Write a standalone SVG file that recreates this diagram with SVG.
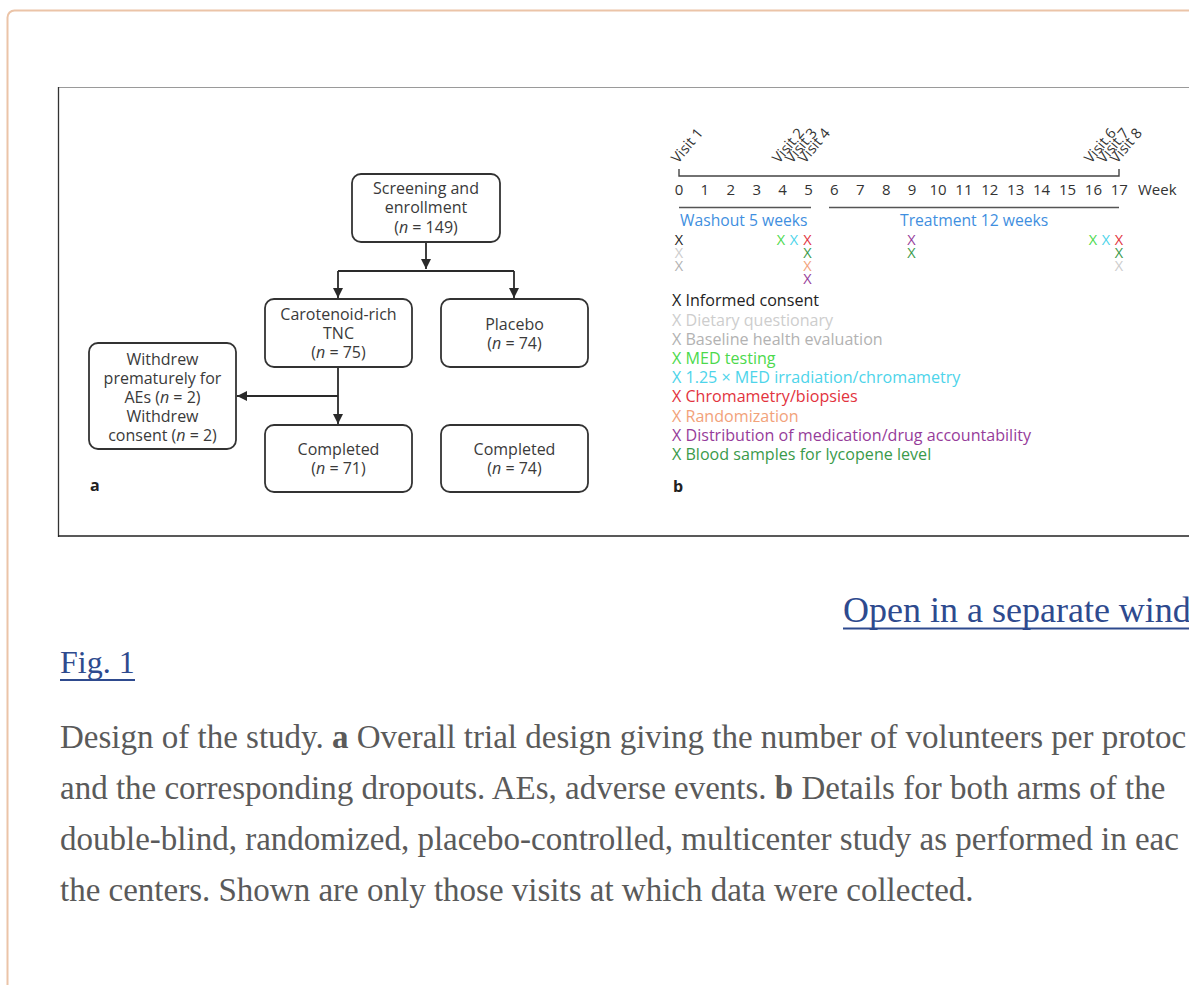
<svg xmlns="http://www.w3.org/2000/svg" width="1189" height="985" viewBox="0 0 1189 985">
<defs>
<marker id="ah" markerUnits="userSpaceOnUse" markerWidth="12" markerHeight="12" refX="10" refY="5" orient="auto">
<path d="M0,0 L10,5 L0,10 Z" fill="#2a2a2a"/>
</marker>
</defs>
<style>
.box{fill:#fff;stroke:#333;stroke-width:1.8}
.ft{font-family:"Open Sans","Noto Sans",sans-serif;font-size:16px;fill:#3a3a3a;text-anchor:middle}
.con{fill:none;stroke:#2a2a2a;stroke-width:1.8}
.wk{font-family:"Open Sans","Noto Sans",sans-serif;font-size:15px;fill:#333;text-anchor:middle}
.vis{font-family:"Open Sans","Noto Sans",sans-serif;font-size:14.5px;fill:#333}
.xm{font-family:"Open Sans","Noto Sans",sans-serif;font-size:14.5px;text-anchor:middle}
.lg{font-family:"Open Sans","Noto Sans",sans-serif;font-size:16.1px}
.blue{font-family:"Open Sans","Noto Sans",sans-serif;font-size:15.7px;fill:#3f8fe0}
.pl{font-family:"Open Sans","Noto Sans",sans-serif;font-size:16px;font-weight:bold;fill:#222}
.cap{font-family:"Liberation Serif","Times New Roman",serif;font-size:33px;fill:#5a5a5a}
.lnk{font-family:"Liberation Serif","Times New Roman",serif;fill:#2e4a8e}
.k{fill:#222}.dq{fill:#cdcdcd}.bh{fill:#b2b2b2}.med{fill:#4cd94c}.cy{fill:#4dd4ea}.rd{fill:#e2333d}.or{fill:#f2a27a}.pu{fill:#963c9a}.bl{fill:#3a9a4a}
</style>
<rect width="1189" height="985" fill="#fff"/>
<rect x="7.5" y="10.5" width="1240" height="1000" rx="7" fill="none" stroke="#ebc4a8" stroke-width="2"/>
<g id="frame">
<line x1="58" y1="87.5" x2="1189" y2="87.5" stroke="#9a9a9a" stroke-width="1.2"/>
<line x1="58.5" y1="87" x2="58.5" y2="537" stroke="#333" stroke-width="1.3"/>
<line x1="58" y1="536" x2="1189" y2="536" stroke="#222" stroke-width="1.6"/>
</g>

<g id="connectors">
<path class="con" d="M426,242 V269" marker-end="url(#ah)"/>
<path class="con" d="M338,271 H514"/>
<path class="con" d="M338,271 V298" marker-end="url(#ah)"/>
<path class="con" d="M514,271 V298" marker-end="url(#ah)"/>
<path class="con" d="M338,367 V424" marker-end="url(#ah)"/>
<path class="con" d="M338,396 H237" marker-end="url(#ah)"/>
</g>

<g id="screening">
<rect class="box" x="352" y="174" width="148" height="68" rx="9"/>
<text class="ft" x="426" y="193.5">Screening and</text>
<text class="ft" x="426" y="213">enrollment</text>
<text class="ft" x="426" y="233">(<tspan font-style="italic">n</tspan> = 149)</text>
</g>
<g id="tnc">
<rect class="box" x="265" y="299" width="147" height="68" rx="9"/>
<text class="ft" x="338.5" y="319.5">Carotenoid-rich</text>
<text class="ft" x="338.5" y="338.5">TNC</text>
<text class="ft" x="338.5" y="358">(<tspan font-style="italic">n</tspan> = 75)</text>
</g>
<g id="placebo">
<rect class="box" x="441" y="299" width="147" height="68" rx="9"/>
<text class="ft" x="514.5" y="329.5">Placebo</text>
<text class="ft" x="514.5" y="348.5">(<tspan font-style="italic">n</tspan> = 74)</text>
</g>
<g id="withdrew">
<rect class="box" x="89" y="343" width="147" height="106" rx="9"/>
<text class="ft" x="162.5" y="364.5">Withdrew</text>
<text class="ft" x="162.5" y="383.5">prematurely for</text>
<text class="ft" x="162.5" y="403">AEs (<tspan font-style="italic">n</tspan> = 2)</text>
<text class="ft" x="162.5" y="422">Withdrew</text>
<text class="ft" x="162.5" y="441">consent (<tspan font-style="italic">n</tspan> = 2)</text>
</g>
<g id="completed-tnc">
<rect class="box" x="265" y="425" width="147" height="67" rx="9"/>
<text class="ft" x="338.5" y="454.5">Completed</text>
<text class="ft" x="338.5" y="473.5">(<tspan font-style="italic">n</tspan> = 71)</text>
</g>
<g id="completed-placebo">
<rect class="box" x="441" y="425" width="147" height="67" rx="9"/>
<text class="ft" x="514.5" y="454.5">Completed</text>
<text class="ft" x="514.5" y="473.5">(<tspan font-style="italic">n</tspan> = 74)</text>
</g>
<text class="pl" x="90" y="491">a</text>

<g id="timeline">
<path d="M679,169 V176 H1119 V169" fill="none" stroke="#444" stroke-width="1.4"/>
<g class="vis">
<text transform="translate(678,164) rotate(-50)">Visit 1</text>
<text transform="translate(779,164) rotate(-50)">Visit 2</text>
<text transform="translate(792,164) rotate(-50)">Visit 3</text>
<text transform="translate(805,164) rotate(-50)">Visit 4</text>
<text transform="translate(1091,164) rotate(-50)">Visit 6</text>
<text transform="translate(1104,164) rotate(-50)">Visit 7</text>
<text transform="translate(1117,164) rotate(-50)">Visit 8</text>
</g>
<g class="wk">
<text x="679" y="195">0</text><text x="704.9" y="195">1</text><text x="730.8" y="195">2</text><text x="756.7" y="195">3</text><text x="782.6" y="195">4</text><text x="808.5" y="195">5</text><text x="834.4" y="195">6</text><text x="860.3" y="195">7</text><text x="886.2" y="195">8</text><text x="912.1" y="195">9</text><text x="938" y="195">10</text><text x="963.9" y="195">11</text><text x="989.8" y="195">12</text><text x="1015.7" y="195">13</text><text x="1041.6" y="195">14</text><text x="1067.5" y="195">15</text><text x="1093.4" y="195">16</text><text x="1119.3" y="195">17</text>
<text x="1138" y="195" text-anchor="start">Week</text>
</g>
<line x1="679" y1="207.5" x2="811" y2="207.5" stroke="#555" stroke-width="1.3"/>
<line x1="829" y1="207.5" x2="1119" y2="207.5" stroke="#555" stroke-width="1.3"/>
<text class="blue" x="680" y="226">Washout 5 weeks</text>
<text class="blue" x="900" y="226">Treatment 12 weeks</text>
</g>

<g id="marks" class="xm">
<text class="k" x="679" y="245">X</text>
<text class="dq" x="679" y="258">X</text>
<text class="bh" x="679" y="271">X</text>
<text class="med" x="781" y="245">X</text>
<text class="cy" x="794" y="245">X</text>
<text class="rd" x="807.5" y="245">X</text>
<text class="bl" x="807.5" y="258">X</text>
<text class="or" x="807.5" y="271">X</text>
<text class="pu" x="807.5" y="284">X</text>
<text class="pu" x="911.5" y="245">X</text>
<text class="bl" x="911.5" y="258">X</text>
<text class="med" x="1093" y="245">X</text>
<text class="cy" x="1106" y="245">X</text>
<text class="rd" x="1119" y="245">X</text>
<text class="bl" x="1119" y="258">X</text>
<text class="dq" x="1119" y="271">X</text>
</g>

<g id="legend" class="lg">
<text class="k" x="672" y="306">X Informed consent</text>
<text class="dq" x="672" y="325.5">X Dietary questionary</text>
<text class="bh" x="672" y="344.5">X Baseline health evaluation</text>
<text class="med" x="672" y="364">X MED testing</text>
<text class="cy" x="672" y="383">X 1.25 × MED irradiation/chromametry</text>
<text class="rd" x="672" y="402">X Chromametry/biopsies</text>
<text class="or" x="672" y="421.5">X Randomization</text>
<text class="pu" x="672" y="440.5">X Distribution of medication/drug accountability</text>
<text class="bl" x="672" y="460">X Blood samples for lycopene level</text>
</g>
<text class="pl" x="673" y="492">b</text>

<g id="caption">
<text class="lnk" x="843" y="622" font-size="36">Open in a separate wind</text>
<line x1="843" y1="628.5" x2="1189" y2="628.5" stroke="#2e4a8e" stroke-width="2"/>
<text class="lnk" x="60" y="673" font-size="32">Fig. 1</text>
<line x1="60" y1="680" x2="135" y2="680" stroke="#2e4a8e" stroke-width="2"/>
<text class="cap" x="60" y="748">Design of the study. <tspan font-weight="bold">a</tspan> Overall trial design giving the number of volunteers per protoc</text>
<text class="cap" x="60" y="799">and the corresponding dropouts. AEs, adverse events. <tspan font-weight="bold">b</tspan> Details for both arms of the</text>
<text class="cap" x="60" y="850">double-blind, randomized, placebo-controlled, multicenter study as performed in eac</text>
<text class="cap" x="60" y="901">the centers. Shown are only those visits at which data were collected.</text>
</g>
</svg>
